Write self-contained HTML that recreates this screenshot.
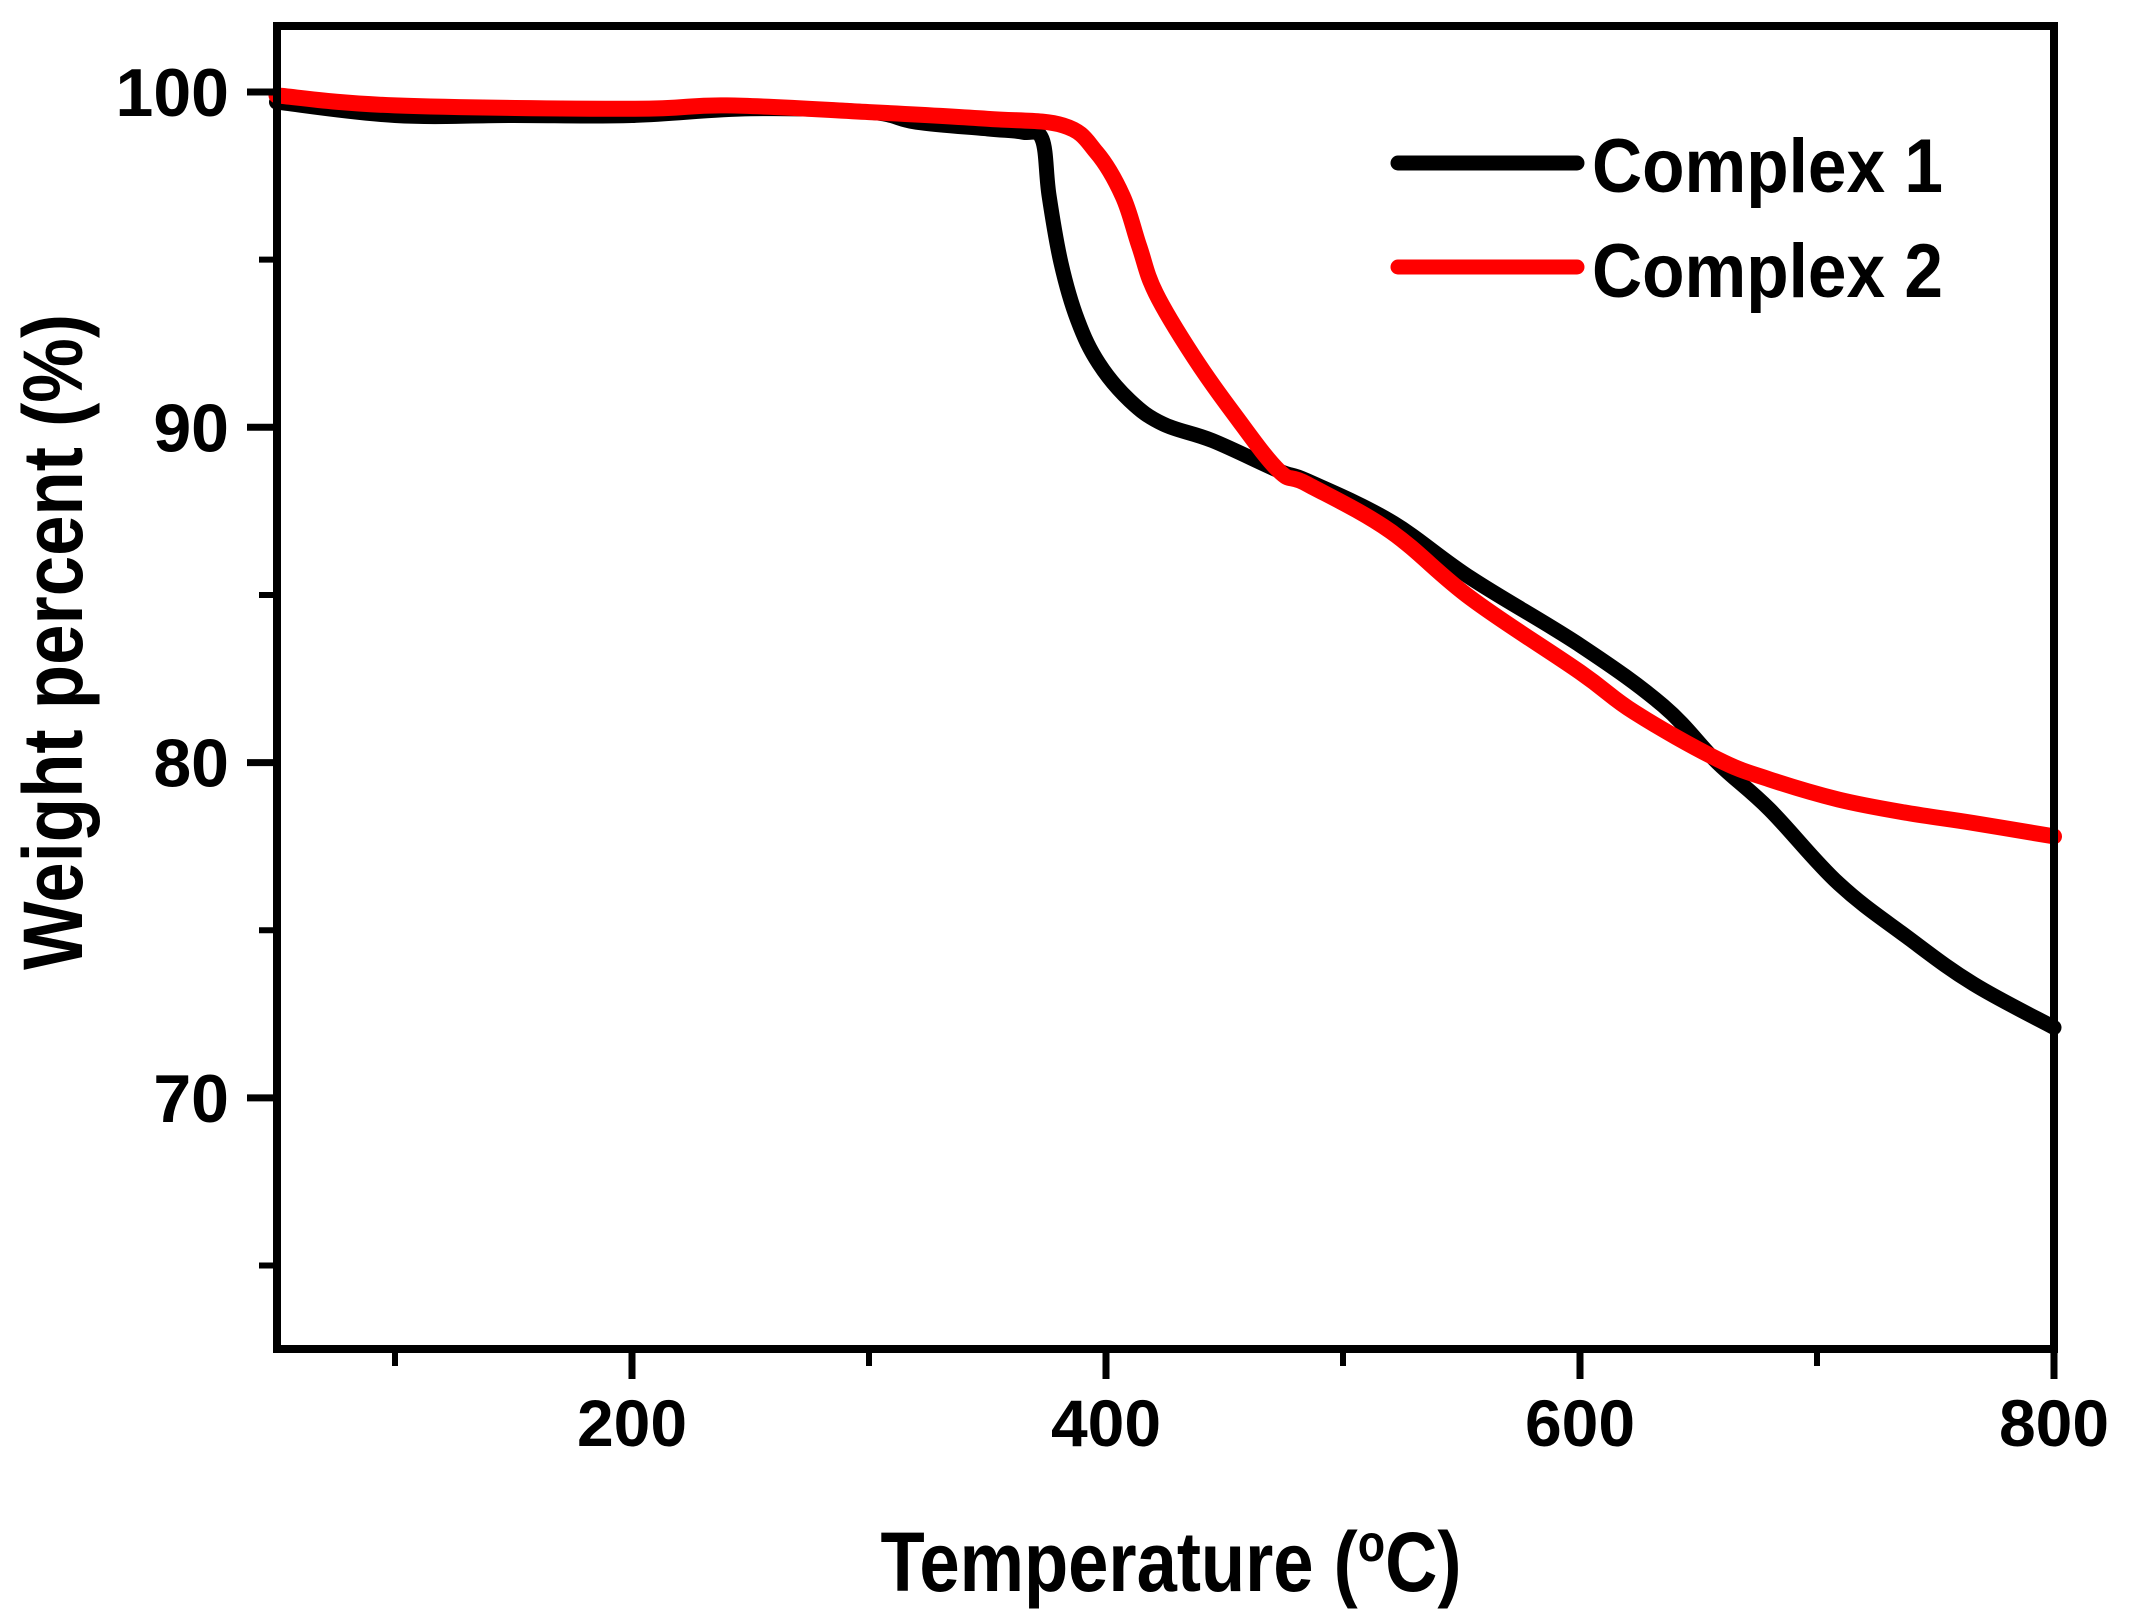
<!DOCTYPE html>
<html><head><meta charset="utf-8"><style>
html,body{margin:0;padding:0;background:#fff;}
svg{display:block;}
text{font-family:"Liberation Sans",Arial,sans-serif;font-weight:bold;fill:#000;}
</style></head><body>
<svg id="chart" width="2131" height="1617" viewBox="0 0 2131 1617" xmlns="http://www.w3.org/2000/svg"></svg>
<script>
const temps1 = [50,100,150,200,250,300,320,350,365,373,376,381,388,397,410,424,445,473,485,520,554,600,635,658,680,709,738,766,800];
const weight1 = [99.7,99.3,99.3,99.3,99.5,99.4,99.1,98.9,98.8,98.6,96.9,94.9,93.2,91.9,90.8,90.1,89.6,88.7,88.4,87.2,85.5,83.5,81.7,80.0,78.6,76.4,74.8,73.4,72.1];
const temps2 = [50,100,200,240,300,350,382,396,407,414,421,437,454,473,485,520,554,600,623,658,680,709,738,766,800];
const weight2 = [99.9,99.6,99.5,99.6,99.4,99.2,99.0,98.2,96.9,95.4,94.0,92.1,90.4,88.7,88.3,86.9,84.9,82.7,81.5,80.1,79.5,78.9,78.5,78.2,77.8];
const xTicks = [200,400,600,800];
const xMinor = [100,300,500,700];
const yTicks = [70,80,90,100];
const yMinor = [65,75,85,95];

const svg = document.getElementById('chart');
const NS = 'http://www.w3.org/2000/svg';
const L=277, R=2054, T=26, B=1349;
function x(t){ return 632 + (t-200)*2.37; }
function y(v){ return 92 + (100-v)*33.53; }
function mk(tag, attrs){ const e=document.createElementNS(NS,tag); for(const k in attrs) e.setAttribute(k,attrs[k]); svg.appendChild(e); return e; }

function smoothPath(pts){
  let d = 'M'+pts[0][0].toFixed(1)+','+pts[0][1].toFixed(1);
  for(let i=0;i<pts.length-1;i++){
    const p0=pts[Math.max(0,i-1)], p1=pts[i], p2=pts[i+1], p3=pts[Math.min(pts.length-1,i+2)];
    const k=0.18;
    const c1=[p1[0]+(p2[0]-p0[0])*k, p1[1]+(p2[1]-p0[1])*k];
    const c2=[p2[0]-(p3[0]-p1[0])*k, p2[1]-(p3[1]-p1[1])*k];
    d += ' C'+c1[0].toFixed(1)+','+c1[1].toFixed(1)+' '+c2[0].toFixed(1)+','+c2[1].toFixed(1)+' '+p2[0].toFixed(1)+','+p2[1].toFixed(1);
  }
  return d;
}
function series(ts, ws, color, name, w){
  const pts = ts.map((t,i)=>[x(t), y(ws[i])]);
  const p = mk('path',{d:smoothPath(pts),fill:'none',stroke:color,'stroke-width':w,'stroke-linejoin':'round','stroke-linecap':'round'});
  
  
}
series(temps1, weight1, '#000', 'complex-1-line', 15);
series(temps2, weight2, '#ff0000', 'complex-2-line', 16);

const fr = mk('rect',{x:L,y:T,width:R-L,height:B-T,fill:'none',stroke:'#000','stroke-width':8});



xTicks.forEach(t=>{
  const l = mk('line',{x1:x(t),x2:x(t),y1:B,y2:B+30,stroke:'#000','stroke-width':7});
  
  
  const tx = mk('text',{x:x(t),y:1446,'font-size':66,'text-anchor':'middle'});
  tx.textContent = t;
  
  
});
xMinor.forEach(t=>{
  const l = mk('line',{x1:x(t),x2:x(t),y1:B,y2:B+17,stroke:'#000','stroke-width':6});
  
  
});
yTicks.forEach(v=>{
  const l = mk('line',{x1:L-30,x2:L,y1:y(v),y2:y(v),stroke:'#000','stroke-width':7});
  
  
  const tx = mk('text',{x:229,y:y(v)+24,'font-size':68,'text-anchor':'end'});
  tx.textContent = v;
  
  
});
yMinor.forEach(v=>{
  const l = mk('line',{x1:L-18,x2:L,y1:y(v),y2:y(v),stroke:'#000','stroke-width':6});
  
  
});

const xt = mk('text',{x:1171,y:1591,'font-size':84,'text-anchor':'middle',textLength:581,lengthAdjust:'spacingAndGlyphs'});
xt.innerHTML = 'Temperature (<tspan font-size="52" dy="-30">o</tspan><tspan dy="30">C)</tspan>';


const yt = mk('text',{x:0,y:0,'font-size':84,'text-anchor':'middle',textLength:656,lengthAdjust:'spacingAndGlyphs',transform:'translate(82,642) rotate(-90)'});
yt.textContent = 'Weight percent (%)';



const lg = [['Complex 1','#000',163,192],['Complex 2','#ff0000',267,297]];
lg.forEach((d,i)=>{
  const l = mk('line',{x1:1398,x2:1577,y1:d[2],y2:d[2],stroke:d[1],'stroke-width':15,'stroke-linecap':'round'});
  
  
  const tx = mk('text',{x:1592,y:d[3],'font-size':76,textLength:351,lengthAdjust:'spacingAndGlyphs'});
  tx.textContent = d[0];
  
  
});
</script>
</body></html>
